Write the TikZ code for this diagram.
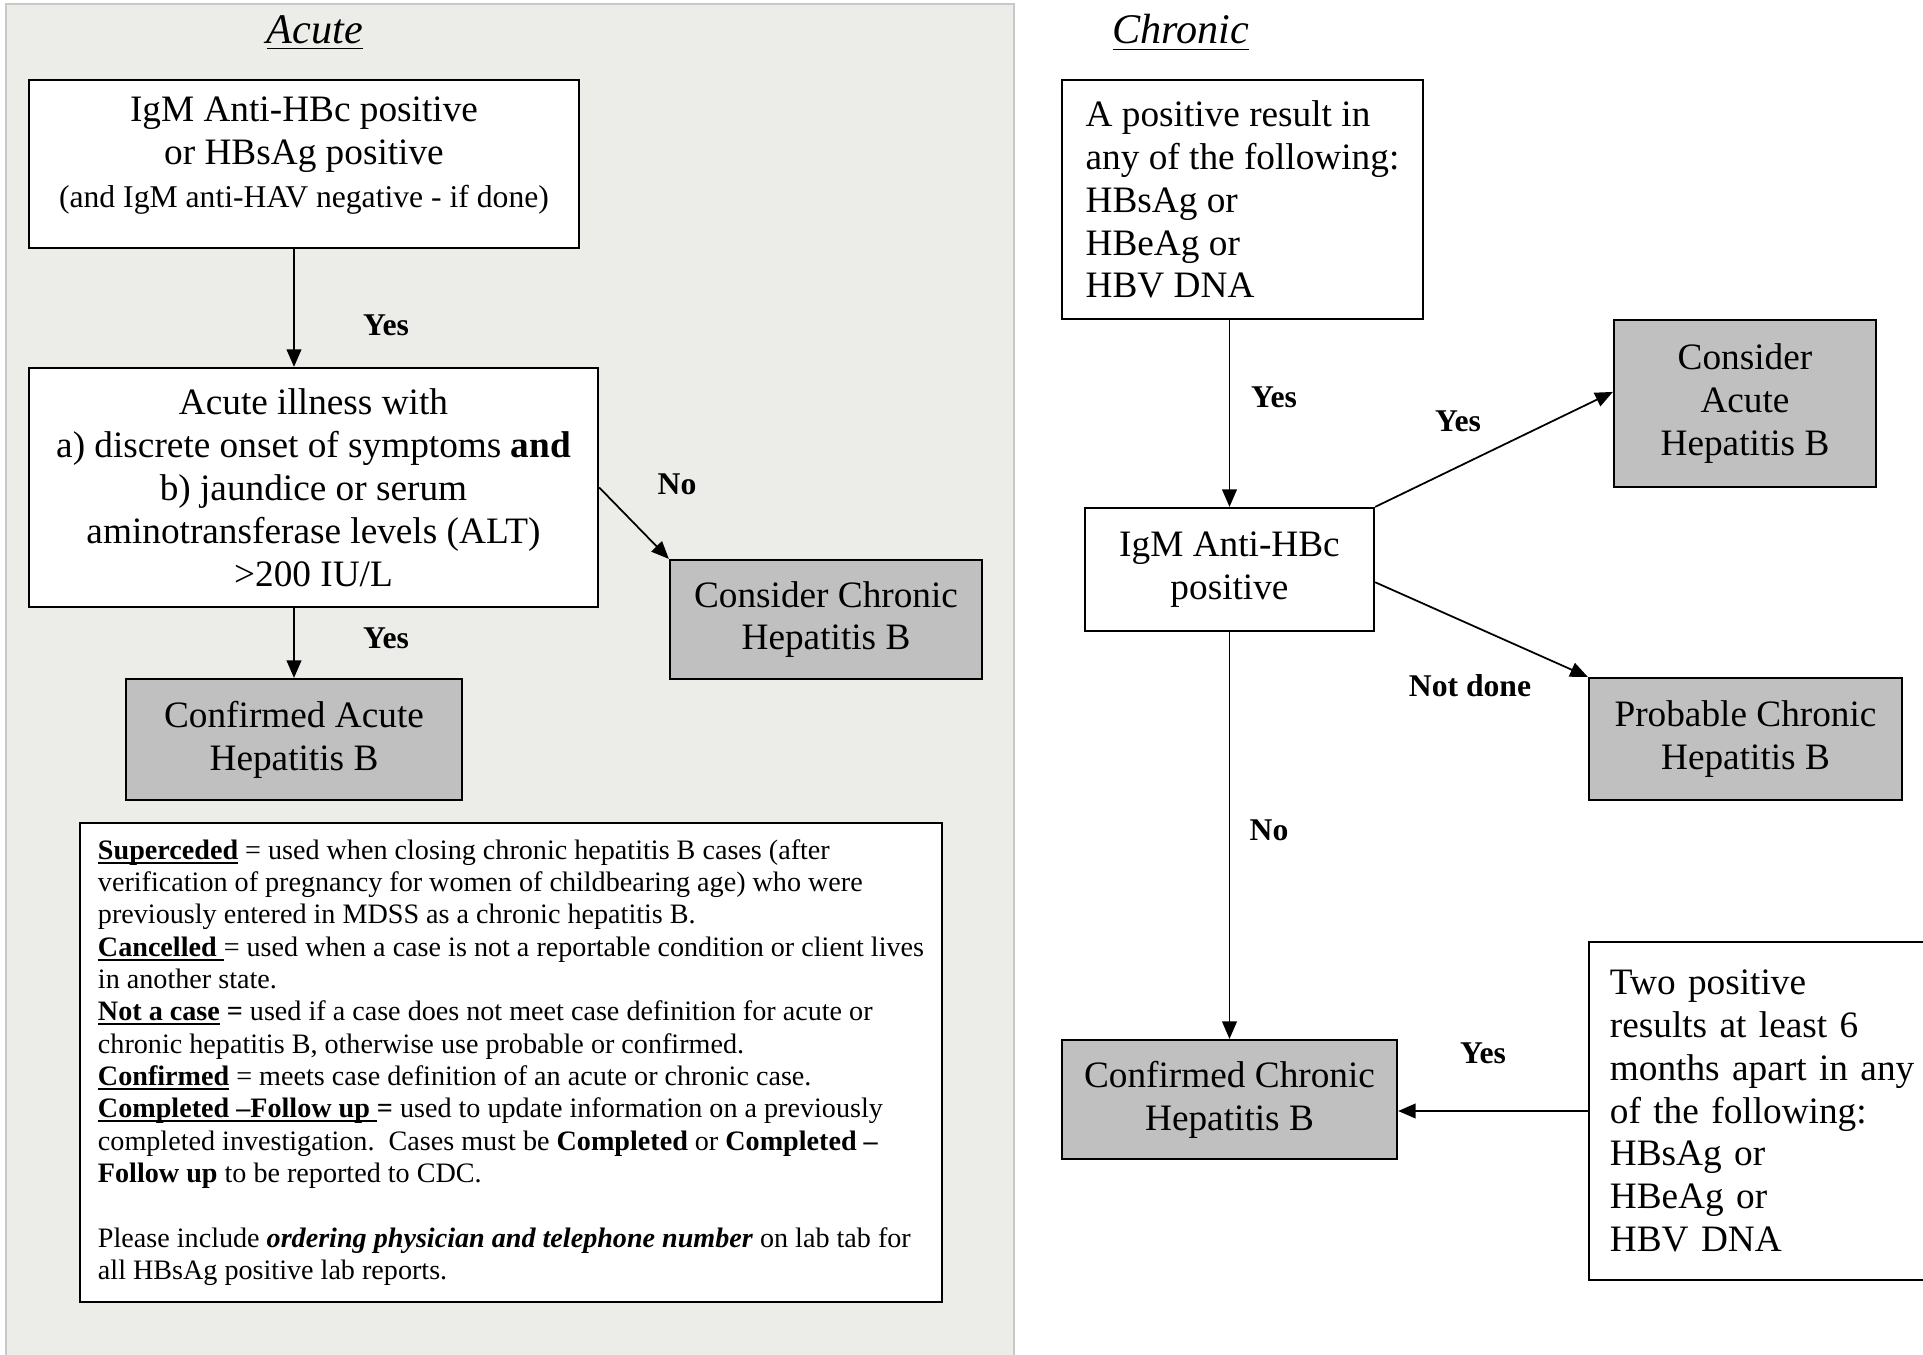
\documentclass[tikz,border=0pt]{standalone}
\usepackage{fontspec}
\setmainfont{Liberation Serif}
\usetikzlibrary{arrows.meta, positioning}
\definecolor{PanelGray}{RGB}{236,236,233}
\definecolor{PanelEdge}{RGB}{200,200,200}
\definecolor{ResultGray}{RGB}{192,192,192}
\tikzset{
  >={Triangle[length=5pt,width=4.2pt]},  % punte piene
  % Caselle
  box/.style={draw,line width=0.6pt,fill=white,inner sep=0pt,align=center,font=\fontsize{10.6}{12.2}\selectfont},
  box result/.style={box,fill=ResultGray},
  box list/.style={box,align=left},
  box legend/.style={draw,line width=0.6pt,fill=white,align=left,inner sep=0pt,font=\fontsize{8}{9.2}\selectfont},
  % Connessioni ed etichette
  connect arrow/.style={->,line width=0.5pt},
  lbl/.style={font=\fontsize{9}{10}\selectfont\bfseries},
  title/.style={font=\fontsize{12}{14}\selectfont\itshape}
}
% termine sottolineato della legenda
\newsavebox{\termbox}
\newcommand{\uterm}[1]{\sbox{\termbox}{\textbf{#1}}\rlap{\rule[-1.3pt]{\wd\termbox}{0.6pt}}\usebox{\termbox}}

\begin{document}
\begin{tikzpicture}[x=0.01cm,y=-0.01cm]
  \useasboundingbox (0,0) rectangle (1923,1355);
  % pannello acuto
  \filldraw[fill=PanelGray,draw=PanelEdge,line width=0.02cm] (6,4) rectangle (1014,1365);
  \node[title] (acutetitle) at (315,33) {\underline{Acute}};
  \node[title] (chronictitle) at (1181,33) {\underline{Chronic}};

  % Acute
  \node[box,minimum width=5.5cm,minimum height=1.68cm] (hbsag) at (304,164)
    {IgM Anti-HBc positive\\or HBsAg positive\\{\fontsize{9}{10.5}\selectfont (and IgM anti-HAV negative - if done)}\\[-5.5pt]\mbox{}};
  \node[box,minimum width=5.69cm,minimum height=2.39cm] (illness) at (313.5,487.5)
    {Acute illness with\\a) discrete onset of symptoms \textbf{and}\\b) jaundice or serum\\aminotransferase levels (ALT)\\>200 IU/L};
  \node[box result,minimum width=3.36cm,minimum height=1.21cm] (confacute) at (294,739.5)
    {Confirmed Acute\\Hepatitis B};
  \node[box result,minimum width=3.12cm,minimum height=1.19cm] (conschronic) at (826,619.5)
    {Consider Chronic\\Hepatitis B};
  \node[box legend,minimum width=8.62cm,minimum height=4.79cm] (legend) at (511,1062.5)
    {\uterm{Superceded} = used when closing chronic hepatitis B cases (after\\
     verification of pregnancy for women of childbearing age) who were\\
     previously entered in MDSS as a chronic hepatitis B.\\
     \uterm{Cancelled\ }= used when a case is not a reportable condition or client lives\\
     in another state.\\
     \uterm{Not a case} \textbf{=} used if a case does not meet case definition for acute or\\
     chronic hepatitis B, otherwise use probable or confirmed.\\
     \uterm{Confirmed} = meets case definition of an acute or chronic case.\\
     \uterm{Completed --Follow up\ }\textbf{=} used to update information on a previously\\
     completed investigation.\ \ Cases must be \textbf{Completed} or \textbf{Completed --}\\
     \textbf{Follow up} to be reported to CDC.\\[9.2pt]
     Please include \textbf{\textit{ordering physician and telephone number}} on lab tab for\\
     all HBsAg positive lab reports.};

  \draw[connect arrow] (hbsag.south -| confacute) -- (illness.north -| confacute);
  \draw[connect arrow] (illness.south -| confacute) -- (confacute.north);
  \draw[connect arrow] (illness.east) -- (conschronic.north west);
  \node[lbl] (yesacute1) at (386,325) {Yes};
  \node[lbl] (yesacute2) at (386,638) {Yes};
  \node[lbl] (noacute) at (677,484) {No};

  % Chronic
  \node[box list,minimum width=3.61cm,minimum height=2.39cm] (anyresult) at (1242.5,199.5)
    {A positive result in\\any of the following:\\HBsAg or\\HBeAg or\\HBV DNA};
  \node[box,minimum width=2.89cm,minimum height=1.23cm] (igmanti) at (1229.5,569.5)
    {IgM Anti-HBc\\positive};
  \node[box result,minimum width=2.62cm,minimum height=1.67cm] (consacute) at (1745,403.5)
    {Consider\\Acute\\Hepatitis B};
  \node[box result,minimum width=3.13cm,minimum height=1.22cm] (probchronic) at (1745.5,739)
    {Probable Chronic\\Hepatitis B};
  \node[box result,minimum width=3.35cm,minimum height=1.19cm] (confchronic) at (1229.5,1099.5)
    {Confirmed Chronic\\Hepatitis B};
  \node[box list,inner xsep=0.21cm,text width=3.19cm,minimum height=3.38cm] (twopos) at (1769.5,1111)
    {Two positive\\results at least 6\\months apart in any\\of the following:\\HBsAg or\\HBeAg or\\HBV DNA};

  \draw[connect arrow] (anyresult.south -| igmanti) -- (igmanti.north);
  \draw[connect arrow] (igmanti.north east) -- (consacute.175);
  \draw[connect arrow] (igmanti.-5) -- (probchronic.north west);
  \draw[connect arrow] (igmanti.south) -- (confchronic.north);
  \draw[connect arrow] (twopos.west) -- (confchronic.east |- twopos.west);
  \node[lbl] (yeschronic1) at (1274,397) {Yes};
  \node[lbl] (yeschronic2) at (1458,421) {Yes};
  \node[lbl] (notdone) at (1470,686) {Not done};
  \node[lbl] (nochronic) at (1269,830) {No};
  \node[lbl] (yeschronic3) at (1483,1053) {Yes};
\end{tikzpicture}
\end{document}
